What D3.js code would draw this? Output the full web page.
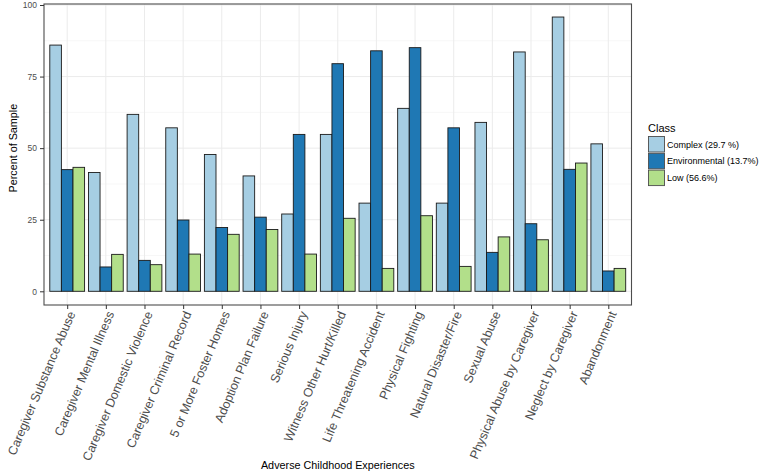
<!DOCTYPE html>
<html><head><meta charset="utf-8">
<script src="https://cdn.jsdelivr.net/npm/d3@7"></script>
<style>body{margin:0;background:#fff}svg{display:block;font-family:"Liberation Sans",Arial,sans-serif}</style>
</head><body><svg id="c" width="762" height="475"></svg>
<script>
const categories = ["Caregiver Substance Abuse","Caregiver Mental Illness","Caregiver Domestic Violence","Caregiver Criminal Record","5 or More Foster Homes","Adoption Plan Failure","Serious Injury","Witness Other Hurt/Killed","Life Threatening Accident","Physical Fighting","Natural Disaster/Fire","Sexual Abuse","Physical Abuse by Caregiver","Neglect by Caregiver","Abandonment"];
const complexVals = [86.0,41.5,61.8,57.1,47.8,40.3,27.0,54.8,30.8,63.9,30.8,59.0,83.6,95.8,51.5];
const environmentalVals = [42.5,8.5,10.8,24.9,22.3,25.9,54.8,79.5,84.0,85.1,57.1,13.6,23.6,42.6,7.1];
const lowVals = [43.3,12.9,9.3,13.0,19.9,21.6,13.0,25.5,8.0,26.4,8.7,19.0,18.0,44.8,8.0];
const seriesNames = ["Complex (29.7 %)","Environmental (13.7%)","Low (56.6%)"];
const seriesColors = ["#a6cee3","#1f78b4","#b2df8a"];
const yTicks = [0,25,50,75,100];

const series = [complexVals, environmentalVals, lowVals];
const svg = d3.select("#c");
const L = 44, R = 631.5, T = 4, B = 305;
const n = categories.length;
const step = (R - L) / (n - 1 + 1.2);
const x = d3.scalePoint().domain(categories).range([L + 0.6*step, R - 0.6*step]);
const y = d3.scaleLinear().domain([0,100]).range([291.3, 5]);
const groupW = step*0.9, barW = groupW/3;
const FF = "'Liberation Sans',Arial,sans-serif";

// grid
const g = svg.append("g");
const minor = [12.5,37.5,62.5,87.5];
g.selectAll(".mn").data(minor).enter().append("line")
  .attr("x1",L).attr("x2",R).attr("y1",d=>y(d)).attr("y2",d=>y(d))
  .attr("stroke","#f2f2f2").attr("stroke-width",0.6);
g.selectAll(".mj").data(yTicks).enter().append("line")
  .attr("x1",L).attr("x2",R).attr("y1",d=>y(d)).attr("y2",d=>y(d))
  .attr("stroke","#ebebeb").attr("stroke-width",1);
g.selectAll(".vx").data(categories).enter().append("line")
  .attr("x1",d=>x(d)).attr("x2",d=>x(d)).attr("y1",T).attr("y2",B)
  .attr("stroke","#ebebeb").attr("stroke-width",1);

// bars
series.forEach((vals,si)=>{
  svg.append("g").selectAll("rect").data(vals).enter().append("rect")
    .attr("x",(d,i)=>x(categories[i]) - groupW/2 + si*barW)
    .attr("width",barW)
    .attr("y",d=>y(d))
    .attr("height",d=>y(0)-y(d))
    .attr("fill",seriesColors[si])
    .attr("stroke","#1a1a1a").attr("stroke-width",0.9);
});

// panel border
svg.append("rect").attr("x",L).attr("y",T).attr("width",R-L).attr("height",B-T)
  .attr("fill","none").attr("stroke","#4d4d4d").attr("stroke-width",1.1);

// y axis
const ya = svg.append("g").attr("transform",`translate(${L},0)`)
  .call(d3.axisLeft(y).tickValues(yTicks).tickSize(4).tickPadding(3));
ya.select(".domain").remove();
ya.selectAll("line").attr("stroke","#333");
ya.selectAll("text").attr("fill","#4d4d4d").style("font-size","8.5px").style("font-family",FF);

// x axis
const xa = svg.append("g").attr("transform",`translate(0,${B})`)
  .call(d3.axisBottom(x).tickSize(4).tickPadding(0));
xa.select(".domain").remove();
xa.selectAll("line").attr("stroke","#333");
xa.selectAll("text")
  .attr("fill","#4d4d4d").style("font-size","12.5px").style("font-family",FF)
  .attr("text-anchor","end").attr("dy",null).attr("y",0)
  .attr("transform","translate(8,8.5) rotate(-67)");

// axis titles
svg.append("text").attr("x",(L+R)/2).attr("y",469).attr("text-anchor","middle")
  .style("font-size","10.8px").attr("fill","#000").text("Adverse Childhood Experiences");
svg.append("text").attr("transform",`translate(17,${y(50)}) rotate(-90)`).attr("text-anchor","middle")
  .style("font-size","10.8px").attr("fill","#000").text("Percent of Sample");

// legend
const lg = svg.append("g");
lg.append("text").attr("x",648).attr("y",132).style("font-size","11px").attr("fill","#000").text("Class");
seriesNames.forEach((s,i)=>{
  const yy = 136.5 + i*16.8;
  lg.append("rect").attr("x",648.5).attr("y",yy).attr("width",16).attr("height",15.5)
    .attr("fill",seriesColors[i]).attr("stroke","#4d4d4d").attr("stroke-width",0.9);
  lg.append("text").attr("x",667).attr("y",yy+8).attr("dy","0.35em")
    .style("font-size","9px").attr("fill","#000").text(s);
});
</script></body></html>
